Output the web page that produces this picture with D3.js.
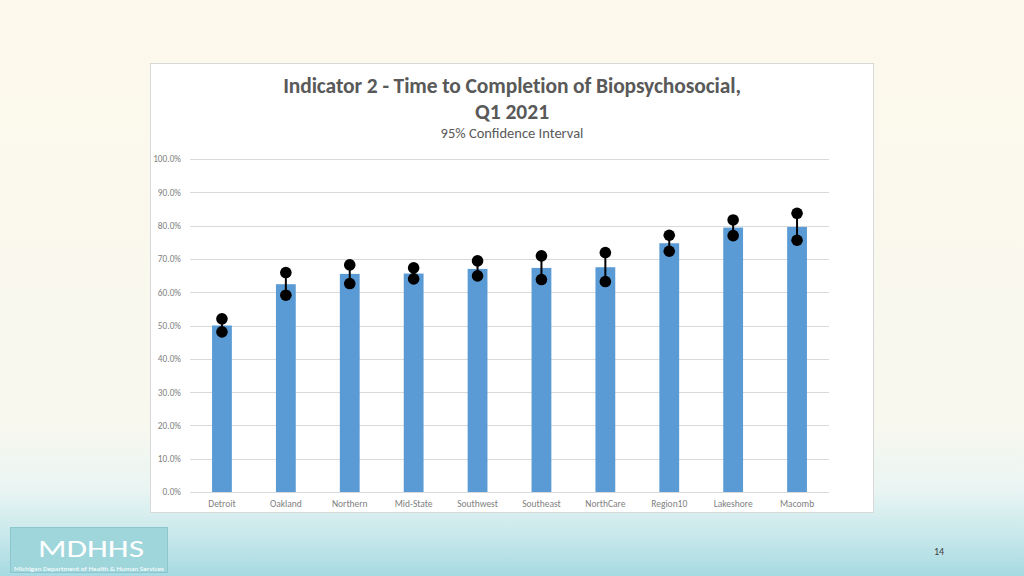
<!DOCTYPE html>
<html>
<head>
<meta charset="utf-8">
<script src="https://cdn.jsdelivr.net/npm/d3@7"></script>
<style>
  html, body { margin: 0; padding: 0; }
  body { width: 1024px; height: 576px; overflow: hidden; }
  text { font-family: Carlito, Calibri, "Open Sans", "Liberation Sans", sans-serif; }
</style>
</head>
<body>
<svg id="chart" width="1024" height="576"></svg>
<script>
const categories = ["Detroit","Oakland","Northern","Mid-State","Southwest","Southeast","NorthCare","Region10","Lakeshore","Macomb"];
const values = [50.0, 62.4, 65.5, 65.6, 67.0, 67.3, 67.5, 74.7, 79.4, 79.6];
const ciLower = [48.1, 59.1, 62.6, 64.0, 64.9, 63.8, 63.2, 72.3, 77.0, 75.6];
const ciUpper = [52.0, 65.9, 68.2, 67.3, 69.4, 70.9, 71.9, 77.1, 81.7, 83.7];
const yTicks = [0, 10, 20, 30, 40, 50, 60, 70, 80, 90, 100];
const titleLines = ["Indicator 2 - Time to Completion of Biopsychosocial,", "Q1 2021"];
const subtitle = "95% Confidence Interval";

const svg = d3.select("#chart");
const defs = svg.append("defs");
const grad = defs.append("linearGradient").attr("id","bg").attr("x1",0).attr("y1",0).attr("x2",0).attr("y2",1);
[[0,"#fdf9ec"],[0.74,"#f8f8ef"],[0.85,"#e9f5f3"],[0.93,"#c8e8eb"],[1,"#a6dae2"]].forEach(([o,c]) =>
  grad.append("stop").attr("offset",o).attr("stop-color",c));
svg.append("rect").attr("width",1024).attr("height",576).attr("fill","url(#bg)");

// chart box
svg.append("rect").attr("x",150.5).attr("y",63.5).attr("width",723).attr("height",449)
  .attr("fill","#ffffff").attr("stroke","#d9d9d9").attr("stroke-width",1);

// titles
const tg = svg.append("g").attr("fill","#595959").attr("text-anchor","middle");
tg.append("text").attr("x",512).attr("y",93).attr("font-size",21.5).attr("font-weight",600).attr("letter-spacing",-0.1).text(titleLines[0]);
tg.append("text").attr("x",512).attr("y",119).attr("font-size",21.5).attr("font-weight",600).text(titleLines[1]);
tg.append("text").attr("x",512).attr("y",138).attr("font-size",14.5).text(subtitle);

const x = d3.scaleBand().domain(categories).range([190, 829]).paddingInner(0.69).paddingOuter(0.345);
const y = d3.scaleLinear().domain([0, 100]).range([492, 159]);

// gridlines
svg.append("g").selectAll("line").data(yTicks).join("line")
  .attr("x1",190).attr("x2",829)
  .attr("y1",d => Math.round(y(d))+0.5).attr("y2",d => Math.round(y(d))+0.5)
  .attr("stroke","#d9d9d9").attr("stroke-width",1);

// y axis labels
const yAxis = d3.axisLeft(y).tickValues(yTicks).tickFormat(d => d.toFixed(1) + "%").tickSize(0).tickPadding(0);
const ya = svg.append("g").attr("transform","translate(181,0)").call(yAxis);
ya.select(".domain").remove();
ya.selectAll("text").attr("fill","#7f7f7f").attr("font-size",9.3).attr("font-family","Carlito, Calibri, 'Open Sans', sans-serif");

// x axis labels
const xAxis = d3.axisBottom(x).tickSize(0).tickPadding(0);
const xa = svg.append("g").attr("transform","translate(0,500)").call(xAxis);
xa.select(".domain").remove();
xa.selectAll("text").attr("fill","#7f7f7f").attr("font-size",9.5).attr("font-family","Carlito, Calibri, 'Open Sans', sans-serif");

// bars
svg.append("g").selectAll("rect").data(categories).join("rect")
  .attr("x",d => x(d)).attr("width",x.bandwidth())
  .attr("y",(d,i) => y(values[i])).attr("height",(d,i) => y(0) - y(values[i]))
  .attr("fill","#5b9bd5");

// CI lines and dots
const ci = svg.append("g");
ci.selectAll("line").data(categories).join("line")
  .attr("x1",d => x(d) + x.bandwidth()/2).attr("x2",d => x(d) + x.bandwidth()/2)
  .attr("y1",(d,i) => y(ciLower[i])).attr("y2",(d,i) => y(ciUpper[i]))
  .attr("stroke","#000").attr("stroke-width",2);
ci.selectAll("circle.up").data(categories).join("circle").attr("class","up")
  .attr("cx",d => x(d) + x.bandwidth()/2).attr("cy",(d,i) => y(ciUpper[i])).attr("r",5.8).attr("fill","#000");
ci.selectAll("circle.lo").data(categories).join("circle").attr("class","lo")
  .attr("cx",d => x(d) + x.bandwidth()/2).attr("cy",(d,i) => y(ciLower[i])).attr("r",5.8).attr("fill","#000");

// logo
const lg = svg.append("g");
lg.append("rect").attr("x",10.5).attr("y",527.5).attr("width",157).attr("height",45)
  .attr("fill","#9fd6dc").attr("stroke","#8cc6cf").attr("stroke-width",1);
lg.append("text").attr("x",91).attr("y",557).attr("text-anchor","middle").attr("fill","#ffffff")
  .attr("font-size",25).attr("font-family","'Open Sans', sans-serif").attr("textLength",106).attr("lengthAdjust","spacingAndGlyphs").text("MDHHS");
lg.append("text").attr("x",89).attr("y",570.5).attr("text-anchor","middle").attr("fill","#ffffff")
  .attr("font-size",5.5).attr("font-family","'Liberation Sans', sans-serif").attr("textLength",150).attr("lengthAdjust","spacingAndGlyphs").text("Michigan Department of Health & Human Services");

// page number
svg.append("text").attr("x",939).attr("y",555).attr("text-anchor","middle").attr("fill","#404040")
  .attr("font-size",10).text("14");
</script>
</body>
</html>
